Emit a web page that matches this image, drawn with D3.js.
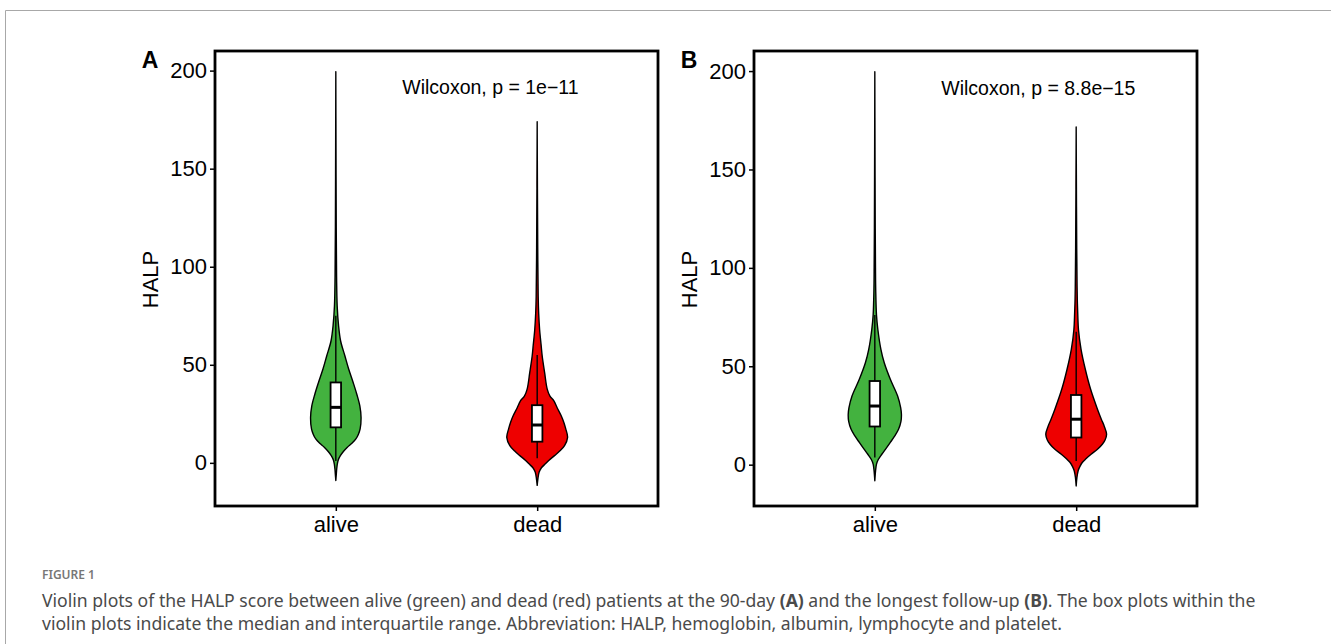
<!DOCTYPE html>
<html>
<head>
<meta charset="utf-8">
<style>
    body { margin: 0; background: #fff; }
    svg text { font-family: 'Liberation Sans', Arial, sans-serif; }
    .caption text { font-family: 'Noto Sans', sans-serif; }
</style>
<script src="https://d3js.org/d3.v7.min.js"></script>
</head>
<body>
<svg width="1331" height="644"></svg>
<script>
// groups on the x axis
var groups = ['alive', 'dead'];
var groupColors = ['#43b23f', '#ee0000'];
var yTicks = [0, 50, 100, 150, 200];

// violin outlines: [HALP value, relative density]
var aliveA = [[199.5, 0], [160, 0.006], [120, 0.014], [95, 0.025], [80, 0.045], [70, 0.09], [62, 0.16],
    [54.5, 0.30], [48, 0.42], [41, 0.57], [35, 0.69], [29, 0.79], [23.2, 0.83], [17.3, 0.80], [14.5, 0.74],
    [12.2, 0.66], [10, 0.53], [8, 0.38], [5.8, 0.25], [3.7, 0.15], [1.5, 0.08], [-0.5, 0.05], [-3, 0.03],
    [-6, 0.015], [-9, 0]];
var deadA = [[173.9, 0], [140, 0.008], [110, 0.018], [85, 0.033], [76, 0.05], [68, 0.08], [60, 0.13],
    [54.5, 0.165], [46, 0.245], [37.6, 0.33], [34, 0.42], [31.6, 0.55], [28, 0.66], [24, 0.79], [20.5, 0.88],
    [17.3, 0.94], [13, 1.0], [8.8, 0.9], [6, 0.74], [3.7, 0.57], [1.5, 0.4], [-0.5, 0.27], [-2.5, 0.14],
    [-4.7, 0.065], [-8, 0.025], [-11.5, 0]];
var aliveB = [[199.7, 0], [160, 0.006], [120, 0.014], [100, 0.022], [88.6, 0.03], [76, 0.055], [68.7, 0.1],
    [58.6, 0.2], [51.8, 0.31], [43.4, 0.51], [34.9, 0.75], [29, 0.85], [25.6, 0.875], [22, 0.86], [18, 0.78],
    [14.5, 0.65], [11.3, 0.51], [8, 0.36], [5.3, 0.23], [2.5, 0.11], [0.3, 0.055], [-3, 0.025], [-8.2, 0]];
var deadB = [[171.6, 0], [140, 0.008], [110, 0.018], [90, 0.03], [82, 0.04], [75, 0.055], [68.7, 0.075],
    [58.6, 0.16], [48.5, 0.3], [38.3, 0.475], [28.2, 0.7], [23, 0.83], [19.7, 0.92], [15.5, 1.0], [12.5, 0.95],
    [10.4, 0.86], [7.8, 0.7], [5.3, 0.49], [3, 0.32], [1.1, 0.2], [-1, 0.12], [-3.1, 0.065], [-6.5, 0.025],
    [-10.8, 0]];

// box plots: [lower whisker, Q1, median, Q3, upper whisker]
var boxA = [[1, 18.1, 28.3, 41, 75], [2.4, 10.8, 19.3, 29.4, 55]];
var boxB = [[3.6, 19.4, 29.8, 42.5, 76], [1.9, 13.8, 23.1, 35.4, 67.6]];

var panelLabels = ['A', 'B'];
var pLabels = ['Wilcoxon, p = 1e\u221211', 'Wilcoxon, p = 8.8e\u221215'];
var yDomains = [[-22, 210], [-21, 210.2]];

var svg = d3.select('svg');

// outer grey frame of the figure
svg.append('path')
    .attr('d', 'M5.5,644 V10.5 H1331')
    .attr('fill', 'none')
    .attr('stroke', '#a8a8a8')
    .attr('stroke-width', 1);

var panelLeft = [215, 754];
var panelW = 443;
var panelTop = 51;
var panelBottom = 506;

function drawPanel(p, violins, boxes) {
    var g = svg.append('g');
    var left = panelLeft[p];
    var x = d3.scaleLinear().domain([0.4, 2.6]).range([left, left + panelW]);
    var y = d3.scaleLinear().domain(yDomains[p]).range([panelBottom, panelTop]);
    var halfW = 0.151; // max violin half width, in group units

    violins.forEach(function (v, i) {
        var cx = i + 1;
        var area = d3.area()
            .curve(d3.curveCatmullRom)
            .y(function (d) { return y(d[0]); })
            .x0(function (d) { return x(cx - d[1] * halfW); })
            .x1(function (d) { return x(cx + d[1] * halfW); });
        g.append('path')
            .attr('d', area(v))
            .attr('fill', groupColors[i])
            .attr('stroke', '#000')
            .attr('stroke-width', 1.4)
            .attr('stroke-linejoin', 'round');
    });

    boxes.forEach(function (b, i) {
        var cx = i + 1;
        var bw = 0.026;
        g.append('line')
            .attr('x1', x(cx)).attr('x2', x(cx))
            .attr('y1', y(b[0])).attr('y2', y(b[4]))
            .attr('stroke', '#000').attr('stroke-width', 1.4);
        g.append('rect')
            .attr('x', x(cx - bw)).attr('width', x(cx + bw) - x(cx - bw))
            .attr('y', y(b[3])).attr('height', y(b[1]) - y(b[3]))
            .attr('fill', '#fff').attr('stroke', '#000').attr('stroke-width', 1.8);
        g.append('line')
            .attr('x1', x(cx - bw)).attr('x2', x(cx + bw))
            .attr('y1', y(b[2])).attr('y2', y(b[2]))
            .attr('stroke', '#000').attr('stroke-width', 3);
    });

    // panel border
    g.append('rect')
        .attr('x', left).attr('y', panelTop)
        .attr('width', panelW).attr('height', panelBottom - panelTop)
        .attr('fill', 'none').attr('stroke', '#000').attr('stroke-width', 2.8);

    var yAxis = g.append('g')
        .attr('transform', 'translate(' + left + ',0)')
        .call(d3.axisLeft(y).tickValues(yTicks).tickSize(5).tickPadding(3));
    var xAxis = g.append('g')
        .attr('transform', 'translate(0,' + panelBottom + ')')
        .call(d3.axisBottom(x).tickValues([1, 2]).tickSize(5).tickPadding(5)
            .tickFormat(function (d) { return groups[d - 1]; }));
    [yAxis, xAxis].forEach(function (a) {
        a.select('.domain').remove();
        a.selectAll('line').attr('stroke', '#000').attr('stroke-width', 1.5);
        a.selectAll('text').attr('fill', '#000').style('font-size', '22px')
            .style('font-family', "'Liberation Sans', Arial, sans-serif");
    });

    g.append('text')
        .attr('transform', 'translate(' + (left - 57) + ',' + ((panelTop + panelBottom) / 2 + 1) + ') rotate(-90)')
        .attr('text-anchor', 'middle')
        .style('font-size', '22px')
        .text('HALP');

    g.append('text')
        .attr('x', left - 65).attr('y', 68)
        .attr('text-anchor', 'middle')
        .style('font-size', '23px').style('font-weight', 'bold')
        .text(panelLabels[p]);

    g.append('text')
        .attr('x', x(1.33)).attr('y', y(188))
        .style('font-size', '19.5px')
        .text(pLabels[p]);
}

drawPanel(0, [aliveA, deadA], boxA);
drawPanel(1, [aliveB, deadB], boxB);

// caption
var cap = svg.append('g').attr('class', 'caption');
cap.append('text')
    .attr('x', 42).attr('y', 579)
    .attr('fill', '#777')
    .style('font-size', '12px').style('font-weight', '600')
    .text('FIGURE 1');
var line1 = cap.append('text').attr('x', 42).attr('y', 607).attr('fill', '#4a4a4a').style('font-size', '17.6px');
line1.append('tspan').text('Violin plots of the HALP score between alive (green) and dead (red) patients at the 90-day ');
line1.append('tspan').style('font-weight', 'bold').text('(A)');
line1.append('tspan').text(' and the longest follow-up ');
line1.append('tspan').style('font-weight', 'bold').text('(B)');
line1.append('tspan').text('. The box plots within the');
cap.append('text').attr('x', 42).attr('y', 630).attr('fill', '#4a4a4a').style('font-size', '17.6px')
    .text('violin plots indicate the median and interquartile range. Abbreviation: HALP, hemoglobin, albumin, lymphocyte and platelet.');
</script>
</body>
</html>
